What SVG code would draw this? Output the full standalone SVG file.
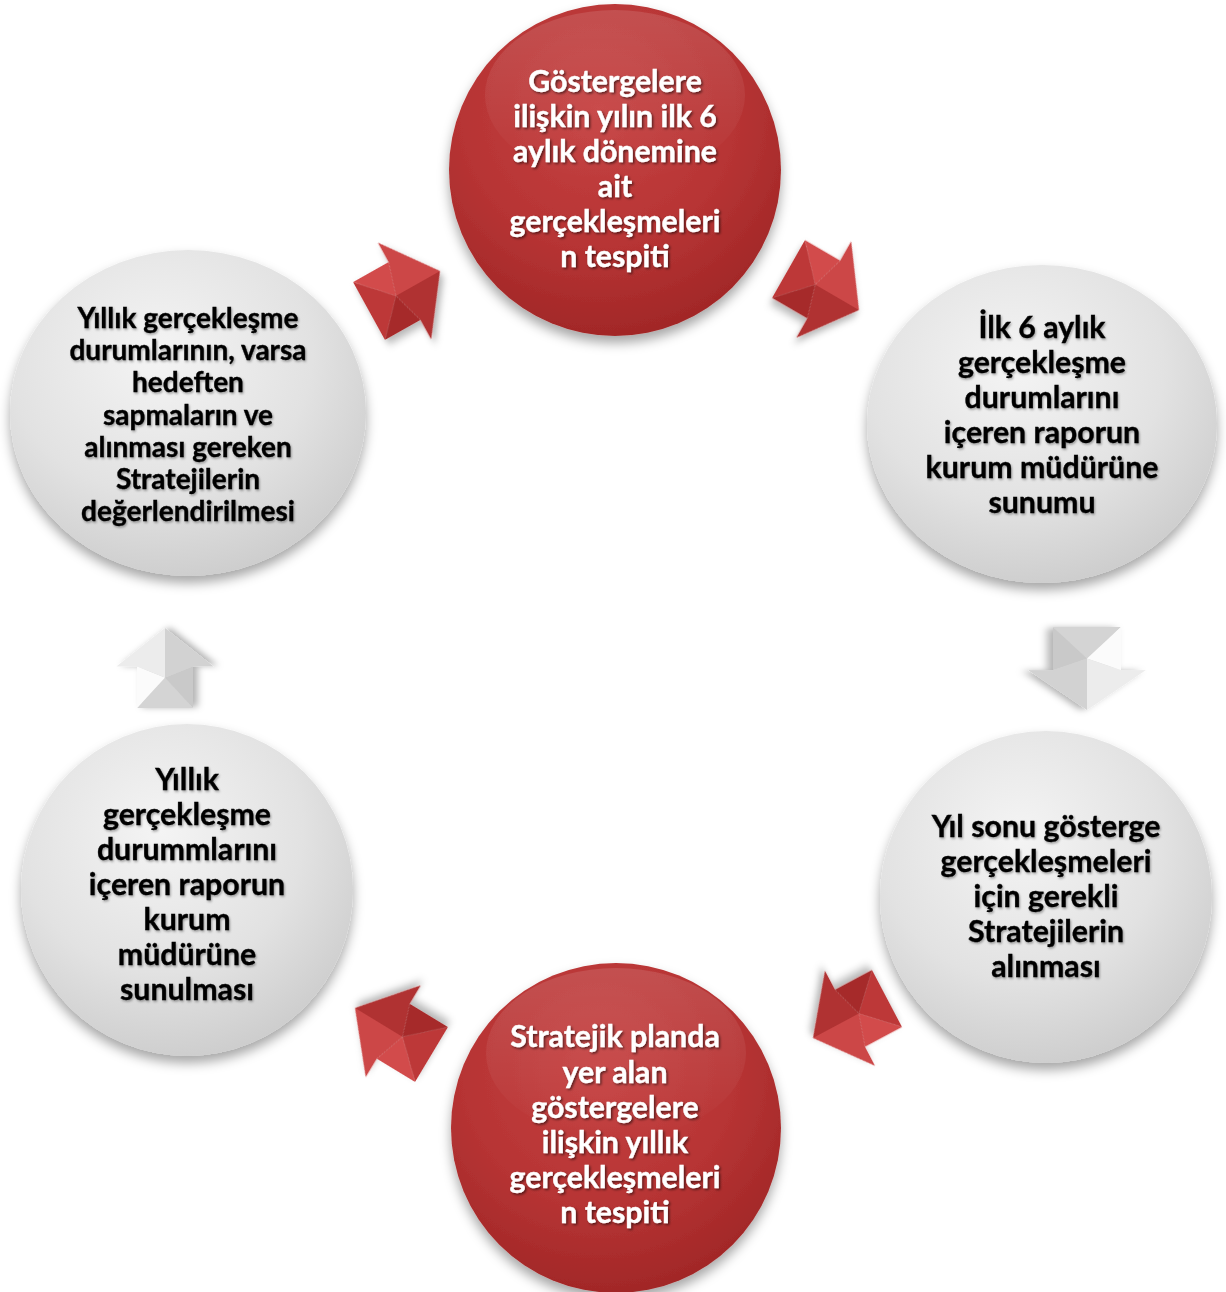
<svg xmlns="http://www.w3.org/2000/svg" xmlns:xlink="http://www.w3.org/1999/xlink" width="1226" height="1292" viewBox="0 0 1226 1292">
<style>
.t{font-family:Lato,"Liberation Sans","DejaVu Sans",sans-serif;font-weight:700;text-anchor:middle;stroke-width:0.35px;paint-order:stroke}
.w{fill:#ffffff;stroke:#ffffff;font-size:30.3px}
.b{fill:#000000;stroke:#000000;font-size:30.3px}
.s{font-size:28px}
.red{fill:url(#gRed)}
.gray{fill:url(#gGray)}
</style>
<defs>
<radialGradient id="gRed" cx="0.45" cy="0.32" r="0.75">
<stop offset="0" stop-color="#c64242"/>
<stop offset="0.55" stop-color="#b73434"/>
<stop offset="1" stop-color="#9c2424"/>
</radialGradient>
<radialGradient id="gGray" cx="0.42" cy="0.32" r="0.78">
<stop offset="0" stop-color="#f4f4f4"/>
<stop offset="0.55" stop-color="#e2e2e2"/>
<stop offset="0.9" stop-color="#cdcdcd"/>
<stop offset="1" stop-color="#c0c0c0"/>
</radialGradient>
<linearGradient id="gHi" x1="0" y1="0" x2="0" y2="1">
<stop offset="0" stop-color="#ffffff" stop-opacity="0.12"/>
<stop offset="1" stop-color="#ffffff" stop-opacity="0"/>
</linearGradient>
<filter id="fCirc" x="-20%" y="-20%" width="140%" height="150%">
<feDropShadow dx="0" dy="7" stdDeviation="6" flood-color="#000" flood-opacity="0.35"/>
</filter>
<filter id="fArr" x="-30%" y="-30%" width="160%" height="170%">
<feDropShadow dx="1" dy="5" stdDeviation="4" flood-color="#000" flood-opacity="0.3"/>
</filter>
<filter id="fTw" x="-10%" y="-30%" width="120%" height="160%">
<feDropShadow dx="1.5" dy="1.5" stdDeviation="1" flood-color="#000" flood-opacity="0.55"/>
</filter>
<filter id="fTb" x="-10%" y="-30%" width="120%" height="160%">
<feDropShadow dx="1" dy="1.5" stdDeviation="1.3" flood-color="#000" flood-opacity="0.35"/>
</filter>
<g id="aRed">
<polygon points="0,-30 0,30 38,0" fill="#bd3939"/>
<polygon points="0,-30 50,-30 38,0" fill="#d24b4b"/>
<polygon points="0,30 50,30 38,0" fill="#a62c2c"/>
<polygon points="38,0 50,-30 50,-50 100,0" fill="#cc4646"/>
<polygon points="38,0 50,30 50,50 100,0" fill="#b03232"/>
</g>
<g id="aGray">
<polygon points="0,-30 0,30 38,0" fill="#d4d4d4"/>
<polygon points="0,-30 52,-30 38,0" fill="#fbfbfb"/>
<polygon points="0,30 52,30 38,0" fill="#c9c9c9"/>
<polygon points="38,0 52,-30 52,-52 100,0" fill="#ececec"/>
<polygon points="38,0 52,30 52,52 100,0" fill="#d2d2d2"/>
</g>
</defs>
<rect width="1226" height="1292" fill="#ffffff"/>
<g id="connectors">
<use xlink:href="#aRed" filter="url(#fArr)" transform="matrix(0.71,-0.40,0.533,0.967,369,311)"/>
<use xlink:href="#aRed" filter="url(#fArr)" transform="matrix(0.705,0.41,-0.55,0.967,788.5,269)"/>
<use xlink:href="#aGray" filter="url(#fArr)" transform="matrix(0,0.83,-1.13,0,1087,627)"/>
<use xlink:href="#aRed" filter="url(#fArr)" transform="matrix(-0.74,0.395,-0.5,-0.95,887,998.5)"/>
<use xlink:href="#aRed" filter="url(#fArr)" transform="matrix(-0.765,-0.465,0.55,-0.917,431.5,1054.5)"/>
<use xlink:href="#aGray" filter="url(#fArr)" transform="matrix(0,-0.8,0.933,0,165,708)"/>
</g>
<g id="node-top">
<circle cx="615" cy="170" r="166" class="red" filter="url(#fCirc)"/>
<ellipse cx="615" cy="95" rx="130" ry="85" fill="url(#gHi)"/>
<g class="t w" filter="url(#fTw)">
<text x="615" y="92">Göstergelere</text>
<text x="615" y="127">ilişkin yılın ilk 6</text>
<text x="615" y="162">aylık dönemine</text>
<text x="615" y="197">ait</text>
<text x="615" y="232">gerçekleşmeleri</text>
<text x="615" y="267">n tespiti</text>
</g>
</g>
<g id="node-right-top">
<ellipse cx="1042" cy="424" rx="175" ry="159" class="gray" filter="url(#fCirc)"/>
<g class="t b" filter="url(#fTb)">
<text x="1042" y="338">İlk 6 aylık</text>
<text x="1042" y="373">gerçekleşme</text>
<text x="1042" y="408">durumlarını</text>
<text x="1042" y="443">içeren raporun</text>
<text x="1042" y="478">kurum müdürüne</text>
<text x="1042" y="513">sunumu</text>
</g>
</g>
<g id="node-right-bottom">
<circle cx="1046" cy="897" r="166" class="gray" filter="url(#fCirc)"/>
<g class="t b" filter="url(#fTb)">
<text x="1046" y="837">Yıl sonu gösterge</text>
<text x="1046" y="872">gerçekleşmeleri</text>
<text x="1046" y="907">için gerekli</text>
<text x="1046" y="942">Stratejilerin</text>
<text x="1046" y="977">alınması</text>
</g>
</g>
<g id="node-bottom">
<circle cx="616" cy="1128" r="165" class="red" filter="url(#fCirc)"/>
<ellipse cx="616" cy="1053" rx="130" ry="85" fill="url(#gHi)"/>
<g class="t w" filter="url(#fTw)">
<text x="615" y="1047">Stratejik planda</text>
<text x="615" y="1083">yer alan</text>
<text x="615" y="1118">göstergelere</text>
<text x="615" y="1153">ilişkin yıllık</text>
<text x="615" y="1188">gerçekleşmeleri</text>
<text x="615" y="1223">n tespiti</text>
</g>
</g>
<g id="node-left-bottom">
<circle cx="187" cy="890" r="166" class="gray" filter="url(#fCirc)"/>
<g class="t b" filter="url(#fTb)">
<text x="187" y="790">Yıllık</text>
<text x="187" y="825">gerçekleşme</text>
<text x="187" y="860">durummlarını</text>
<text x="187" y="895">içeren raporun</text>
<text x="187" y="930">kurum</text>
<text x="187" y="965">müdürüne</text>
<text x="187" y="1000">sunulması</text>
</g>
</g>
<g id="node-left-top">
<ellipse cx="188" cy="413" rx="178" ry="163" class="gray" filter="url(#fCirc)"/>
<g class="t b s" filter="url(#fTb)">
<text x="188" y="328">Yıllık gerçekleşme</text>
<text x="188" y="360">durumlarının, varsa</text>
<text x="188" y="392">hedeften</text>
<text x="188" y="425">sapmaların ve</text>
<text x="188" y="457">alınması gereken</text>
<text x="188" y="489">Stratejilerin</text>
<text x="188" y="521">değerlendirilmesi</text>
</g>
</g>
</svg>
